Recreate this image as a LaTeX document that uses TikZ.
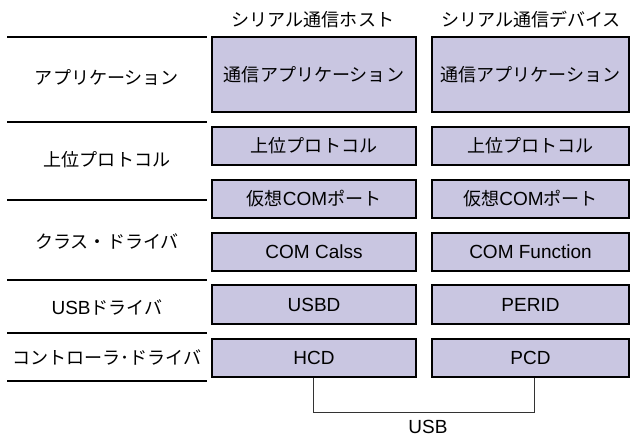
\documentclass[tikz,border=0pt]{standalone}
\usepackage{fontspec}
\setmainfont{Liberation Sans}
\newfontfamily\jp[Scale=0.95]{Noto Sans CJK JP}
\definecolor{boxfill}{HTML}{C9C6E1}
\definecolor{linegray}{HTML}{333333}
\begin{document}
\begin{tikzpicture}[x=1pt,y=-1pt,
  every node/.style={font=\fontsize{19}{22}\selectfont, inner sep=0pt},
  layerbox/.style={draw=black, line width=1.7pt, fill=boxfill},
  hostbox/.style={layerbox, minimum width=204pt},
  devbox/.style={layerbox, minimum width=197pt},
  sep/.style={draw=black, line width=1.2pt},
  wire/.style={draw=linegray, line width=0.9pt}]
\useasboundingbox (0,0) rectangle (631,439);
% headers
\node (hh) at (313,20) {\jp シリアル通信ホスト};
\node (dh) at (531,20) {\jp シリアル通信デバイス};
% separators
\coordinate (s1a) at (7,37);  \coordinate (s1b) at (207,37);
\coordinate (s2a) at (7,122); \coordinate (s2b) at (207,122);
\coordinate (s3a) at (7,200); \coordinate (s3b) at (207,200);
\coordinate (s4a) at (7,280); \coordinate (s4b) at (207,280);
\coordinate (s5a) at (7,333); \coordinate (s5b) at (207,333);
\coordinate (s6a) at (7,381); \coordinate (s6b) at (207,381);
\draw[sep] (s1a) -- (s1b);
\draw[sep] (s2a) -- (s2b);
\draw[sep] (s3a) -- (s3b);
\draw[sep] (s4a) -- (s4b);
\draw[sep] (s5a) -- (s5b);
\draw[sep] (s6a) -- (s6b);
% left labels
\node (l1) at (107,78) {\jp アプリケーション};
\node (l2) at (107,160) {\jp 上位プロトコル};
\node (l3) at (107,242) {\jp クラス・ドライバ};
\node (l4) at (107,307) {USB{\jp ドライバ}};
\node (l5) at (107,357) {\jp コントローラ･ドライバ};
% host boxes
\node[hostbox, minimum height=75pt] (h1) at (314,74.5) {\jp 通信アプリケーション};
\node[hostbox, minimum height=38pt] (h2) at (314,146) {\jp 上位プロトコル};
\node[hostbox, minimum height=38pt] (h3) at (314,199) {{\jp 仮想}COM{\jp ポート}};
\node[hostbox, minimum height=38pt] (h4) at (314,252) {COM Calss};
\node[hostbox, minimum height=39pt] (h5) at (314,304.5) {USBD};
\node[hostbox, minimum height=38pt] (h6) at (314,358) {HCD};
% device boxes
\node[devbox, minimum height=75pt] (d1) at (530.5,74.5) {\jp 通信アプリケーション};
\node[devbox, minimum height=38pt] (d2) at (530.5,146) {\jp 上位プロトコル};
\node[devbox, minimum height=38pt] (d3) at (530.5,199) {{\jp 仮想}COM{\jp ポート}};
\node[devbox, minimum height=38pt] (d4) at (530.5,252) {COM Function};
\node[devbox, minimum height=39pt] (d5) at (530.5,304.5) {PERID};
\node[devbox, minimum height=38pt] (d6) at (530.5,358) {PCD};
% USB link
\coordinate (ubl) at (313,412);
\draw[wire] ([xshift=-1pt]h6.south) -- (ubl) -| ([xshift=3.5pt]d6.south);
\node (usb) at (428,427) {USB};
\end{tikzpicture}
\end{document}
